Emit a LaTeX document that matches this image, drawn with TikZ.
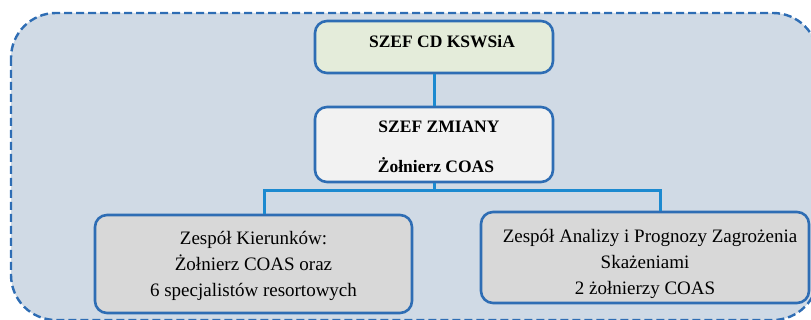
\documentclass[tikz,border=0pt]{standalone}
\usepackage{fontspec}
\setmainfont{Liberation Serif}
\definecolor{bordblue}{HTML}{2E6DB4}
\definecolor{connblue}{HTML}{1C8AD0}
\definecolor{outerfill}{HTML}{D0DAE5}
\definecolor{topfill}{HTML}{E4ECDA}
\definecolor{midfill}{HTML}{F2F2F2}
\definecolor{lowfill}{HTML}{D8D8D8}
\tikzset{
  box/.style={draw=bordblue, line width=2.6pt, rounded corners=12pt, inner sep=0pt, align=center, font=\fontsize{19}{26}\selectfont},
  boldbox/.style={box, font=\fontsize{17.5}{24}\selectfont\bfseries},
  conn/.style={draw=connblue, line width=3pt},
  frame/.style={draw=bordblue, line width=2.4pt, dash pattern=on 8pt off 4pt, fill=outerfill, rounded corners=45pt}
}
\begin{document}
\begin{tikzpicture}[x=1pt,y=-1pt]
\useasboundingbox (0,0) rectangle (811,320);
\path[frame] (11,13) rectangle (818,320);
\node[boldbox, fill=topfill, minimum width=238pt, minimum height=52pt] (top) at (434,47)
  {\hspace*{16pt}SZEF CD KSWSiA\rule[-12pt]{0pt}{1pt}};
\node[boldbox, fill=midfill, minimum width=238pt, minimum height=75pt] (mid) at (434,144.5)
  {\hspace*{10pt}SZEF ZMIANY\rule{0pt}{17pt}\\[16pt]\hspace*{4pt}Żołnierz COAS};
\node[box, fill=lowfill, minimum width=317pt, minimum height=98pt] (left) at (253.5,264)
  {\rule{0pt}{17pt}Zespół Kierunków:\\Żołnierz COAS oraz\\6 specjalistów resortowych};
\node[box, fill=lowfill, minimum width=328pt, minimum height=91pt] (right) at (645,257.5)
  {\rule{0pt}{26pt}\hspace*{10pt}Zespół Analizy i Prognozy Zagrożenia\\Skażeniami\\2 żołnierzy COAS};
\coordinate (jl) at (264,191);
\coordinate (jr) at (660,191);
\draw[conn] (top.south) -- (mid.north);
\draw[conn] (mid.south) -- (mid.south |- jl);
\draw[conn] (left.north -| jl) -- (jl) -- (jr) -- (right.north -| jr);
\end{tikzpicture}
\end{document}
